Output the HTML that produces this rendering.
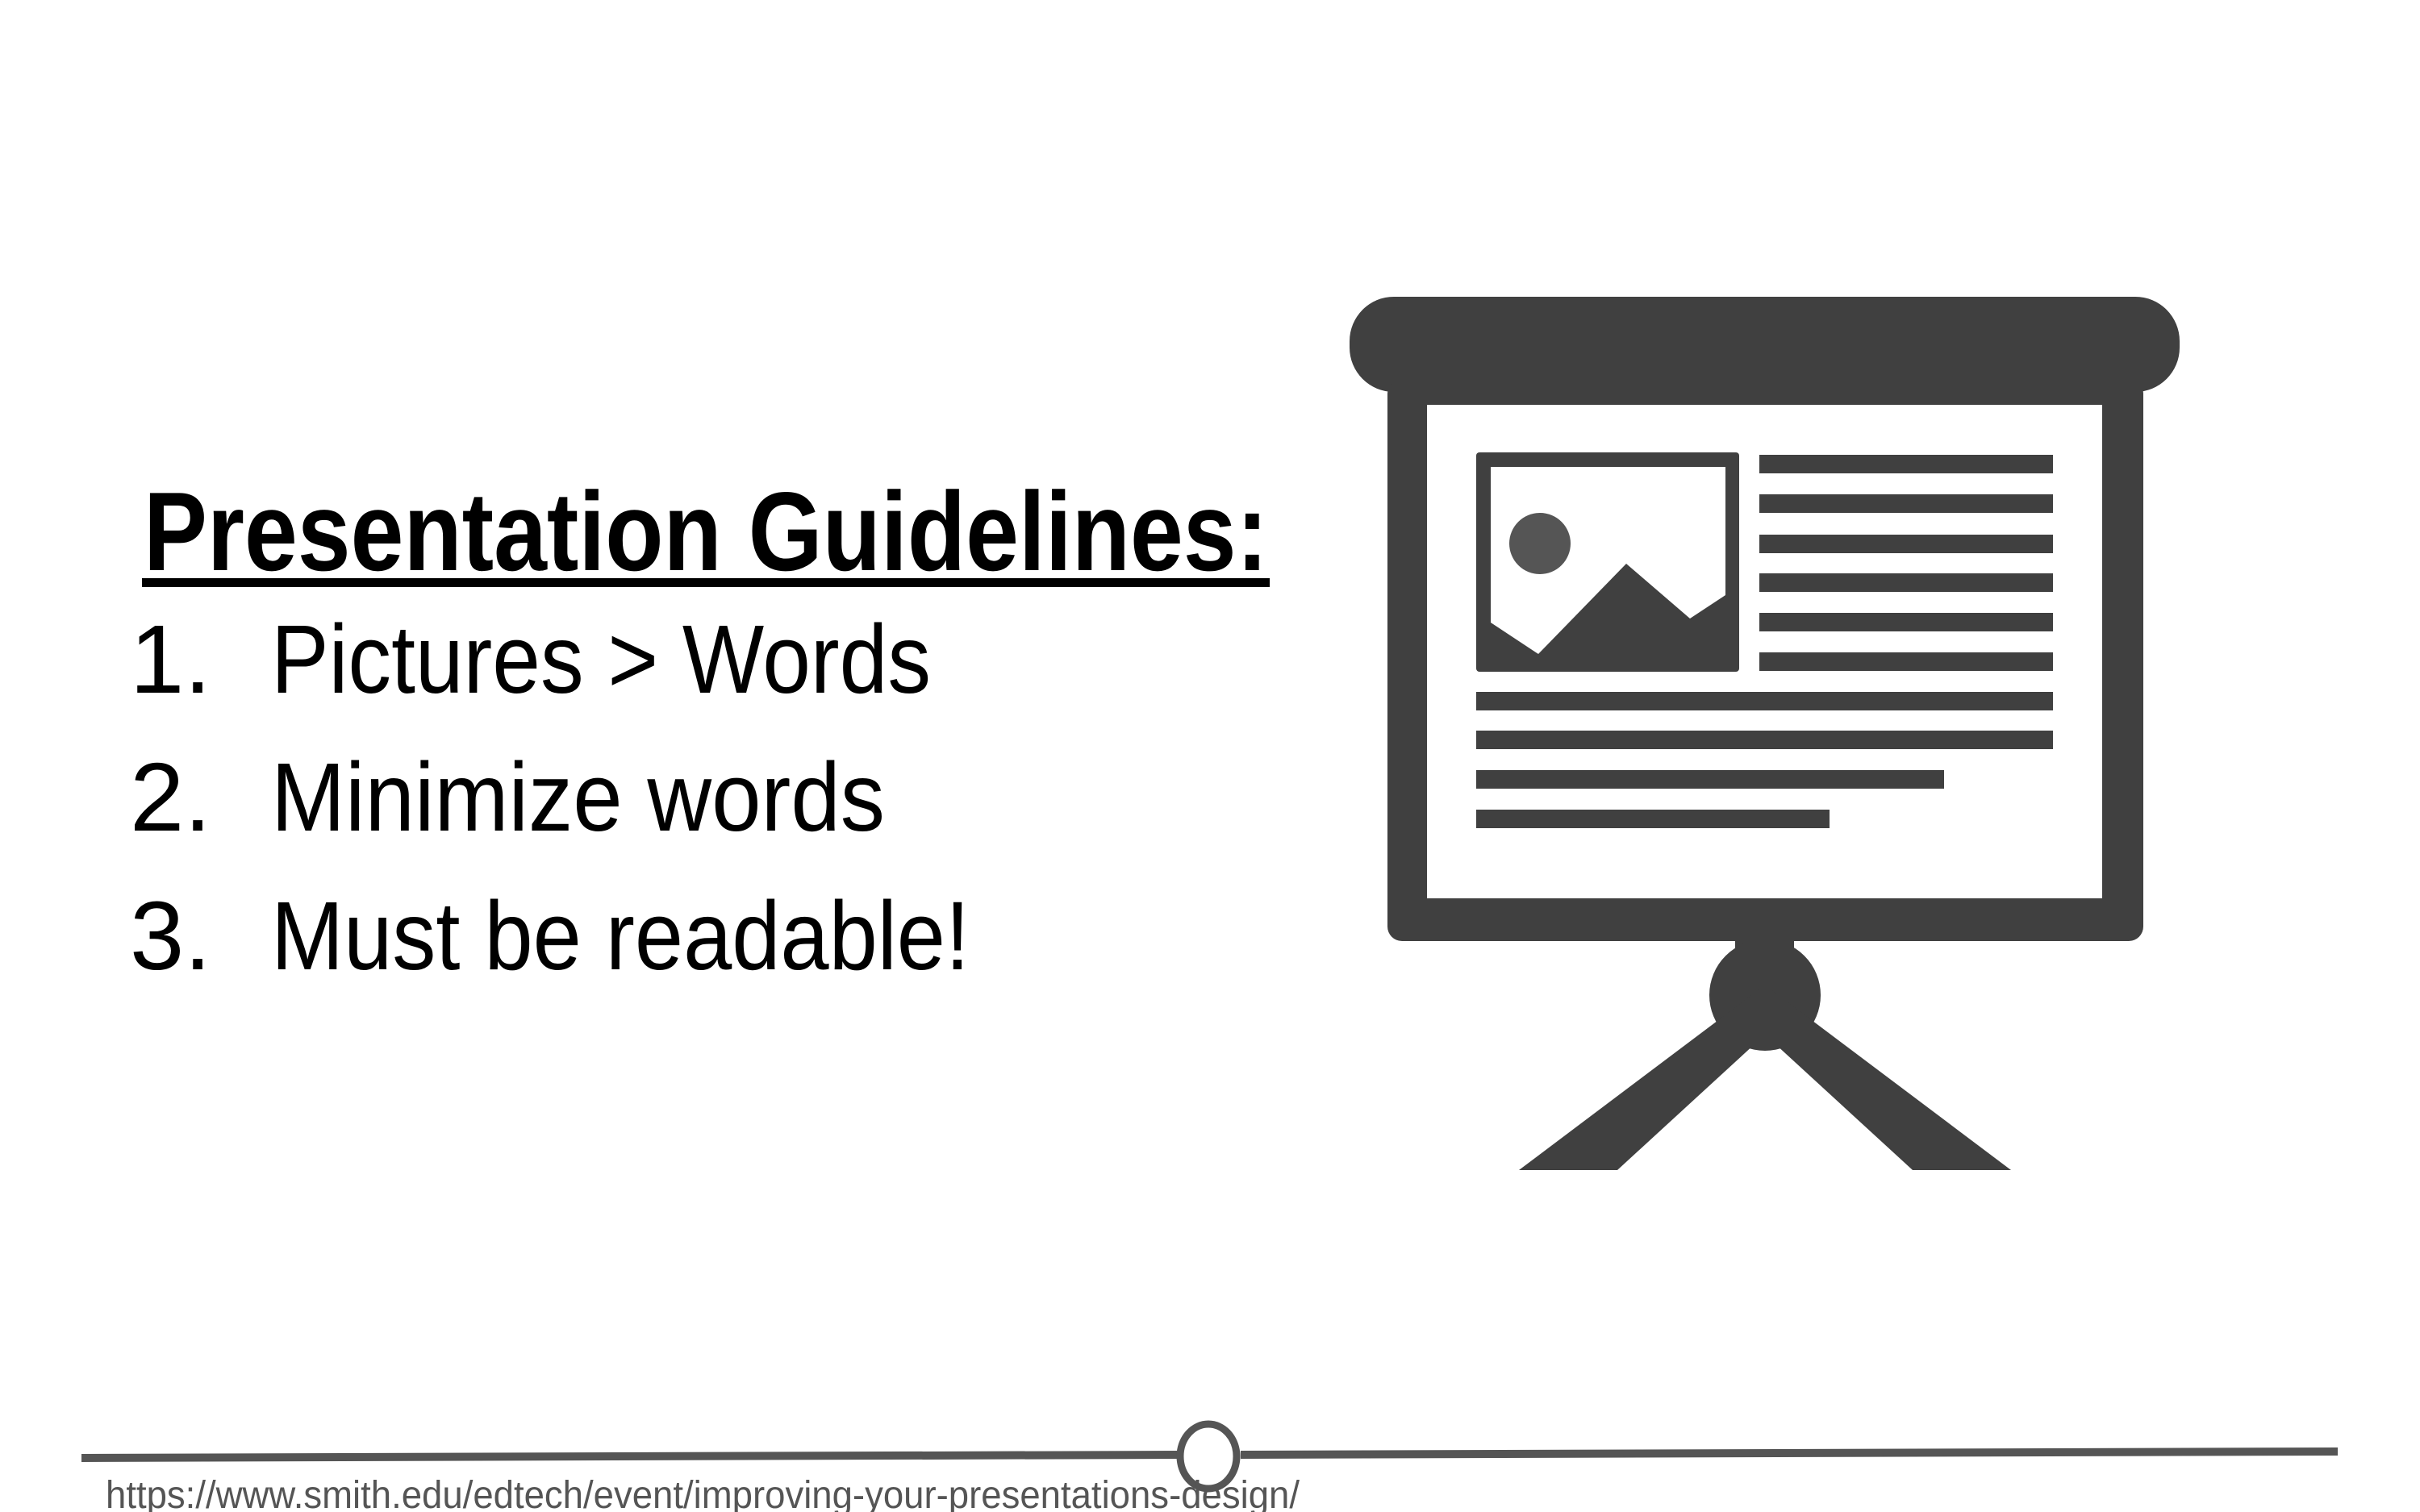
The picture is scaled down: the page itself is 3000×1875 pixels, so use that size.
<!DOCTYPE html>
<html><head><meta charset="utf-8"><style>
html,body{margin:0;padding:0;background:#fff;}
svg{display:block;}
text{font-family:"Liberation Sans Narrow","Liberation Sans",sans-serif;}
</style></head><body>
<svg width="3000" height="1875" viewBox="0 0 3000 1875">
<rect x="0" y="0" width="3000" height="1875" fill="#fff"/>
<text x="178" y="707" font-size="139" font-weight="bold" fill="#000" textLength="1394" lengthAdjust="spacingAndGlyphs">Presentation Guidelines:</text>
<rect x="176" y="717" width="1398" height="11" fill="#000"/>
<g fill="#000" font-size="121">
<text x="161" y="859">1.</text>
<text x="336" y="859" textLength="818" lengthAdjust="spacingAndGlyphs">Pictures &gt; Words</text>
<text x="161" y="1030">2.</text>
<text x="336" y="1030" textLength="761" lengthAdjust="spacingAndGlyphs">Minimize words</text>
<text x="161" y="1202">3.</text>
<text x="336" y="1202" textLength="866" lengthAdjust="spacingAndGlyphs">Must be readable!</text>
</g>
<g fill="#404040">
<rect x="1673" y="368" width="1029" height="118" rx="55"/>
<rect x="1720" y="470" width="937" height="697" rx="18"/>
<rect x="1769" y="502" width="837" height="612" fill="#fff"/>
<rect x="1830" y="561" width="326" height="272" rx="4"/>
<polygon points="1848,579 2139,579 2139,738 2095,767 2016,699 1907,811 1848,772" fill="#fff"/>
<circle cx="1909" cy="674" r="38" fill="#555"/>
<rect x="2181" y="564" width="364" height="23"/>
<rect x="2181" y="613" width="364" height="23"/>
<rect x="2181" y="663" width="364" height="23"/>
<rect x="2181" y="711" width="364" height="23"/>
<rect x="2181" y="760" width="364" height="23"/>
<rect x="2181" y="809" width="364" height="23"/>
<rect x="1830" y="858" width="715" height="23"/>
<rect x="1830" y="906" width="715" height="23"/>
<rect x="1830" y="955" width="580" height="23"/>
<rect x="1830" y="1004" width="438" height="23"/>
<rect x="2151" y="1160" width="73" height="60"/>
<circle cx="2188" cy="1234" r="69"/>
<polygon points="2194,1217 2200,1272 2005,1451 1883,1451"/>
<polygon points="2182,1217 2176,1272 2371,1451 2493,1451"/>
</g>
<line x1="101" y1="1808" x2="1462" y2="1804" stroke="#555" stroke-width="10"/>
<line x1="1538" y1="1804" x2="2898" y2="1800" stroke="#555" stroke-width="10"/>
<ellipse cx="1498" cy="1806" rx="35" ry="40" fill="none" stroke="#555" stroke-width="9"/>
<text x="131" y="1870" font-size="48" fill="#555" textLength="1480" lengthAdjust="spacingAndGlyphs">https://www.smith.edu/edtech/event/improving-your-presentations-design/</text>
</svg>
</body></html>
